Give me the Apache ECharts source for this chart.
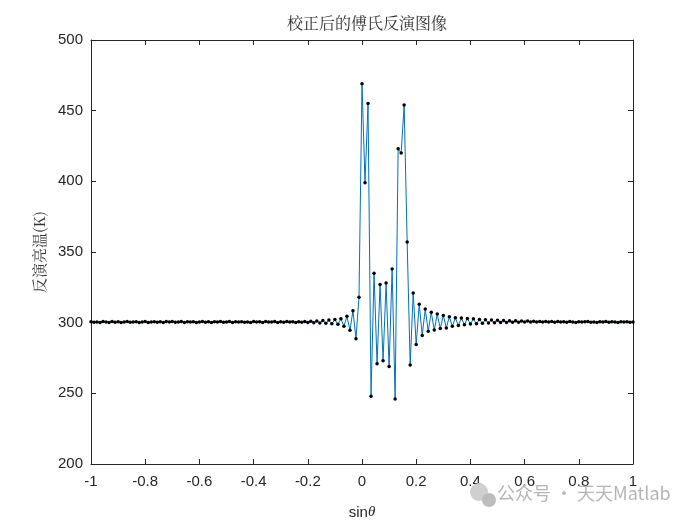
<!DOCTYPE html>
<html>
<head>
<meta charset="utf-8">
<script src="https://cdn.jsdelivr.net/npm/echarts@6/dist/echarts.min.js"></script>
<style>html,body{margin:0;padding:0;background:#fff}#c{width:700px;height:525px}</style>
</head>
<body>
<div id="c"></div>
<script>
// sample count along sinθ from -1 to 1
const sampleCount = 181;
// brightness temperature values (K), left wing i=0..83
const leftWing = [
300.6,300.3,300.5,300.2,300.9,300.4,300.1,300.8,300.3,300.6,
300.2,300.5,300.9,300.3,300.4,300.7,300.2,300.5,300.8,300.1,
300.5,300.7,300.3,300.6,300.2,300.8,300.4,300.9,300.3,300.5,
300.8,300.2,300.6,300.4,300.7,300.1,300.5,300.9,300.3,300.6,
300.2,300.7,300.4,300.8,300.3,300.5,300.9,300.2,300.6,300.4,
300.7,300.3,300.5,300.1,300.8,300.4,300.6,300.2,300.9,300.4,
300.5,300.8,300.2,300.6,300.3,300.9,300.4,300.7,300.1,300.6,
300.3,300.9,300.2,301.0,300.0,301.2,299.8,301.5,299.5,301.8,
299.2,302.2,298.8,302.8
];
// main lobe i=84..135
const mainLobe = [
297.4,304.5,294.6,308.5,288.6,318,
469,399,455,248,335,271,327,273,328,269,
338,246,423,420,454,357,270,321,284.5,313,
291,309.6,294,307.3,294.8,306.1,295.8,305.1,296.3,304.2,
297.4,303.5,298,303.3,298.5,303,299,302.7,299.2,302.3,
299.5,302.1,299.8,301.9,300,301.7
];
// right wing i=136..180
const rightWing = [
300.1,301.6,300.2,301.4,300.3,301.3,300.3,301.2,300.4,301.1,
300.4,301.0,300.5,300.9,300.4,300.9,300.5,300.8,300.3,300.9,
300.5,300.7,
300.3,300.8,300.5,300.2,300.7,300.4,300.6,300.9,300.3,300.5,
300.2,300.7,300.4,300.8,300.3,300.6,300.5,300.2,300.7,300.4,
300.6,300.3,300.5
];
const xTicks = [-1,-0.8,-0.6,-0.4,-0.2,0,0.2,0.4,0.6,0.8,1];
const yTicks = [200,250,300,350,400,450,500];

const values = leftWing.concat(mainLobe, rightWing);
const sinTheta = [];
for (let i = 0; i < sampleCount; i++) sinTheta.push(-1 + 2 * i / (sampleCount - 1));
const seriesData = values.map((v, i) => [sinTheta[i], v]);

const chart = echarts.init(document.getElementById('c'), null, {renderer: 'canvas'});
const tickFont = {fontFamily: '"Liberation Sans", Arial, sans-serif', fontSize: 15, color: '#262626'};
const axisLine = {show: true, onZero: false, lineStyle: {color: '#262626', width: 1}};
const tick = {show: true, inside: true, length: 5, lineStyle: {color: '#262626'}};
const fmtX = v => String(+(+v).toFixed(1));
chart.setOption({
  animation: false,
  backgroundColor: '#fff',
  title: {
    text: '校正后的傅氏反演图像',
    left: 362, top: 10, textAlign: 'center',
    textStyle: {fontFamily: '"Noto Serif CJK SC","Noto Sans CJK SC",serif', fontSize: 16, fontWeight: 'normal', color: '#333'}
  },
  grid: {left: 91, right: 67, top: 40, bottom: 58},
  xAxis: [{
    type: 'value', min: xTicks[0], max: xTicks[xTicks.length - 1], interval: 0.2,
    axisLine: axisLine, axisTick: tick,
    axisLabel: Object.assign({margin: 10, formatter: fmtX}, tickFont),
    splitLine: {show: false},
    name: '{a|sin}{b|θ}', nameLocation: 'middle', nameGap: 41,
    nameTextStyle: {rich: {
      a: {fontFamily: '"Liberation Sans", Arial, sans-serif', fontSize: 15, color: '#262626'},
      b: {fontFamily: '"Liberation Serif", serif', fontStyle: 'italic', fontSize: 15, color: '#262626'}
    }}
  }, {
    type: 'value', position: 'top', min: xTicks[0], max: xTicks[xTicks.length - 1], interval: 0.2,
    axisLine: axisLine, axisTick: tick,
    axisLabel: {show: false}, splitLine: {show: false}
  }],
  yAxis: [{
    type: 'value', min: yTicks[0], max: yTicks[yTicks.length - 1], interval: 50,
    axisLine: axisLine, axisTick: tick,
    axisLabel: Object.assign({margin: 8}, tickFont),
    splitLine: {show: false},
    name: '反演亮温(K)', nameLocation: 'middle', nameGap: 43, nameRotate: 90,
    nameTextStyle: {fontFamily: '"Noto Serif CJK SC","Noto Sans CJK SC",serif', fontSize: 15, color: '#333'}
  }, {
    type: 'value', position: 'right', min: yTicks[0], max: yTicks[yTicks.length - 1], interval: 50,
    axisLine: axisLine, axisTick: tick,
    axisLabel: {show: false}, splitLine: {show: false}
  }],
  series: [{
    type: 'line', xAxisIndex: 0, yAxisIndex: 0,
    data: seriesData,
    lineStyle: {color: '#0072BD', width: 1},
    showSymbol: true, symbol: 'circle', symbolSize: 3.5,
    itemStyle: {color: '#000', borderWidth: 0},
    emphasis: {disabled: true}
  }],
  graphic: [
    {type: 'circle', shape: {cx: 479, cy: 492, r: 9}, style: {fill: '#cfcfcf'}, z: 100},
    {type: 'circle', shape: {cx: 489, cy: 500, r: 7}, style: {fill: '#bdbdbd'}, z: 100},
    {type: 'text', left: 497, top: 484, z: 100,
     style: {text: '公众号 · 天天Matlab', fill: '#b5b5b5', font: '18px "Noto Sans CJK SC", sans-serif'}}
  ]
});
</script>
</body>
</html>
